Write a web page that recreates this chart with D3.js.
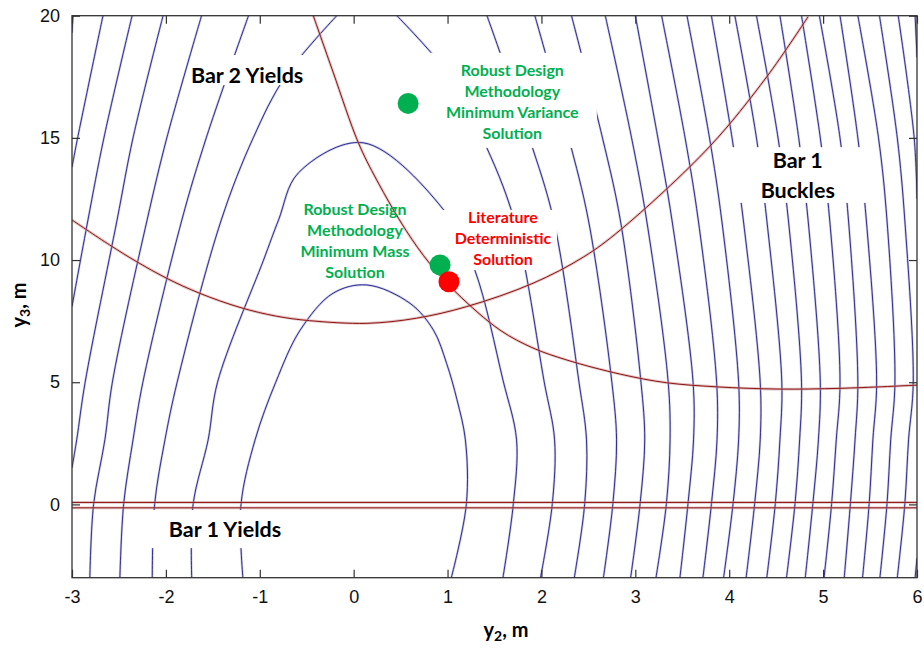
<!DOCTYPE html>
<html><head><meta charset="utf-8">
<script src="https://cdn.jsdelivr.net/npm/d3@7"></script>
<style>body{margin:0;background:#fff}</style>
</head><body>
<svg id="chart" width="924" height="650"></svg>
<script>
// Design space: y2 (horizontal) and y3 (vertical), metres
const xTicks = [-3, -2, -1, 0, 1, 2, 3, 4, 5, 6];
const yTicks = [0, 5, 10, 15, 20];

// Mass contours: closed arches around the origin
const innerContours = [
  [[-1.18,-3],[-1.20,0],[-1.05,2.64],[-0.83,5],[-0.57,7.13],[-0.22,8.64],[0.14,8.98],[0.60,8.23],[0.85,7.13],[0.99,5.77],[1.10,4.29],[1.19,2.64],[1.20,0],[1.04,-3]],
  [[-1.725,-3],[-1.71,0],[-1.55,2.64],[-1.45,5],[-0.96,10],[-0.80,11.64],[-0.59,13.56],[0.10,14.8],[0.99,11.9],[1.29,9.59],[1.59,5.09],[1.735,2.64],[1.70,0],[1.59,-3]]
];
// Mass contours, left-hand branches
const leftContours = [
  [[-2.145,-3],[-2.12,0],[-2.01,2.64],[-1.88,5],[-1.41,11.64],[-1.07,15],[-0.73,17.5],[-0.18,20]],
  [[-2.49,-3],[-2.45,0],[-2.35,2.64],[-2.245,5],[-1.83,11.64],[-1.57,15],[-1.12,20]],
  [[-2.81,-3],[-2.77,0],[-2.65,2.64],[-2.57,5],[-2.20,11.64],[-1.99,15],[-1.62,20]],
  [[-3,1.5],[-2.95,2.64],[-2.86,5],[-2.52,11.64],[-2.35,15],[-2.03,20]],
  [[-3,8.1],[-2.83,11.64],[-2.66,15],[-2.36,20]],
  [[-3,13.8],[-2.94,15],[-2.67,20]],
  [[-3,19.3],[-2.99,20]]
];
// Mass contours, right-hand branches
const rightContours = [
  [[1.99,-3],[2.115,0],[2.14,2.64],[2.03,5],[1.71,11.64],[1.37,15],[1.03,17.5],[0.46,20]],
  [[2.35,-3],[2.46,0],[2.48,2.64],[2.40,5],[2.13,11.64],[1.87,15],[1.42,20]],
  [[2.66,-3],[2.76,0],[2.80,2.64],[2.75,5],[2.50,11.64],[2.29,15],[1.93,20]],
  [[2.95,-3],[3.05,0],[3.10,2.64],[3.06,5],[2.84,11.64],[2.65,15],[2.32,20]],
  [[3.22,-3],[3.33,0],[3.37,2.64],[3.35,5],[3.12,11.64],[2.96,15],[2.68,20]],
  [[3.475,-3],[3.56,0],[3.62,2.64],[3.615,5],[3.39,11.64],[3.24,15],[3.0,20]],
  [[3.72,-3],[3.81,0],[3.87,2.64],[3.866,5],[3.67,11.64],[3.53,15],[3.28,20]],
  [[3.94,-3],[4.04,0],[4.10,2.64],[4.10,5],[3.92,11.64],[3.79,15],[3.55,20]],
  [[4.18,-3],[4.27,0],[4.33,2.64],[4.33,5],[4.15,11.64],[4.03,15],[3.81,20]],
  [[4.40,-3],[4.49,0],[4.54,2.64],[4.56,5],[4.40,11.64],[4.29,15],[4.06,20]],
  [[4.61,-3],[4.70,0],[4.75,2.64],[4.77,5],[4.63,11.64],[4.52,15],[4.29,20]],
  [[4.81,-3],[4.89,0],[4.95,2.64],[4.97,5],[4.84,11.64],[4.74,15],[4.54,20]],
  [[5.01,-3],[5.09,0],[5.14,2.64],[5.18,5],[5.07,11.64],[4.97,15],[4.77,20]],
  [[5.225,-3],[5.29,0],[5.34,2.64],[5.37,5],[5.27,11.64],[5.18,15],[4.96,20]],
  [[5.42,-3],[5.49,0],[5.53,2.64],[5.57,5],[5.46,11.64],[5.37,15],[5.18,20]],
  [[5.605,-3],[5.68,0],[5.72,2.64],[5.765,5],[5.68,11.64],[5.59,15],[5.37,20]],
  [[5.79,-3],[5.87,0],[5.91,2.64],[5.96,5],[5.87,11.64],[5.79,15],[5.60,20]],
  [[5.98,-3],[6.0,-2.2]],
  [[6.0,12.5],[5.97,15],[5.80,20]],
  [[6.0,18.3],[5.98,20]]
];

// Constraint boundaries
const bar2Yields = [[-3,11.64],[-2.6,10.62],[-2.31,9.93],[-1.99,9.25],[-1.64,8.64],[-1.21,8.06],[-0.82,7.7],[-0.47,7.52],[0.14,7.41],[0.67,7.62],[1.2,8.09],[1.91,9.05],[2.45,10.13],[2.84,11.23],[3.79,14.64],[4.4,17.5],[4.84,19.96]];
const bar1Buckles = [[-0.43,20],[-0.22,17.7],[0.05,14.8],[0.245,13.28],[0.56,11.2],[0.81,9.86],[1.10,8.64],[1.56,7.13],[1.91,6.40],[2.27,5.91],[2.84,5.33],[3.33,4.98],[3.87,4.81],[4.54,4.72],[5.18,4.75],[6.0,4.88]];
const bar1Yields = [[[-3,0.08],[6,0.08]], [[-3,-0.14],[6,-0.14]]];

// Design points
const solutions = [
  {name: "Robust minimum variance", y2: 0.58, y3: 16.41, color: "#00b050"},
  {name: "Robust minimum mass", y2: 0.92, y3: 9.80, color: "#00b050"},
  {name: "Literature deterministic", y2: 1.015, y3: 9.11, color: "#ff0000"}
];

// Annotations (anchor in data units) and their white backing panels
const notes = [
  {lines: ["Bar 2 Yields"], x: -1.135, y: 17.24, color: "#000", size: 21.5, gap: 0},
  {lines: ["Robust Design", "Methodology", "Minimum Variance", "Solution"], x: 1.69, y: 17.53, color: "#00b050", size: 16, gap: 21},
  {lines: ["Robust Design", "Methodology", "Minimum Mass", "Solution"], x: 0.014, y: 11.84, color: "#00b050", size: 16, gap: 21},
  {lines: ["Literature", "Deterministic", "Solution"], x: 1.59, y: 11.5, color: "#ff0000", size: 16, gap: 21},
  {lines: ["Bar 1", "Buckles"], x: 4.73, y: 13.75, color: "#000", size: 21.5, gap: 30},
  {lines: ["Bar 1 Yields"], x: -1.37, y: -1.33, color: "#000", size: 21.5, gap: 0}
];
const panels = [
  [-1.50, 18.39, -0.23, 17.16],
  [0.79, 18.48, 2.59, 14.59],
  [0.887, 12.05, 2.165, 9.59],
  [4.03, 14.62, 5.47, 12.34],
  [-2.17, -0.23, -0.57, -1.79]
];

const svg = d3.select("#chart");
const W = 924, H = 650;
const pL = 72, pR = 917, pT = 15.7, pB = 577.7;
const x = d3.scaleLinear().domain([-3, 6]).range([pL, pR]);
const y = d3.scaleLinear().domain([-3, 20]).range([pB, pT]);

svg.append("rect").attr("width", W).attr("height", H).attr("fill", "#fff");

svg.append("defs").append("clipPath").attr("id", "plot")
  .append("rect").attr("x", pL).attr("y", pT)
  .attr("width", pR - pL).attr("height", pB - pT);

const line = d3.line().x(d => x(d[0])).y(d => y(d[1]))
  .curve(d3.curveCatmullRom.alpha(0.5));

const plot = svg.append("g").attr("clip-path", "url(#plot)");

function drawCurves(g, data, halo, core, hw, cw) {
  g.selectAll(null).data(data).join("path")
    .attr("d", line).attr("fill", "none")
    .attr("stroke", halo).attr("stroke-width", hw).attr("stroke-opacity", 0.55);
  g.selectAll(null).data(data).join("path")
    .attr("d", line).attr("fill", "none")
    .attr("stroke", core).attr("stroke-width", cw);
}

const contours = innerContours.concat(leftContours, rightContours);
drawCurves(plot.append("g"), contours, "#9c9cc8", "#1c1c8c", 2.3, 0.9);

// white panels behind annotations
plot.append("g").selectAll("rect").data(panels).join("rect")
  .attr("x", d => x(d[0])).attr("y", d => y(d[1]))
  .attr("width", d => x(d[2]) - x(d[0])).attr("height", d => y(d[3]) - y(d[1]))
  .attr("fill", "#fff");

drawCurves(plot.append("g"), [bar2Yields, bar1Buckles].concat(bar1Yields), "#c98f8f", "#8e1515", 2.8, 1.0);

// design points
plot.append("g").selectAll("circle").data(solutions).join("circle")
  .attr("cx", d => x(d.y2)).attr("cy", d => y(d.y3)).attr("r", 10.5)
  .attr("fill", d => d.color);

// frame and axes
const tickFmt = d => String(d);
const axisG = svg.append("g").attr("font-family", "'Liberation Sans', Arial, sans-serif");
axisG.append("g").attr("transform", `translate(0,${pB})`)
  .call(d3.axisBottom(x).tickValues(xTicks).tickSizeInner(-8).tickSizeOuter(0).tickPadding(13).tickFormat(tickFmt));
axisG.append("g").attr("transform", `translate(0,${pT})`)
  .call(d3.axisTop(x).tickValues(xTicks).tickSizeInner(-8).tickSizeOuter(0).tickFormat(""));
axisG.append("g").attr("transform", `translate(${pL},0)`)
  .call(d3.axisLeft(y).tickValues(yTicks).tickSizeInner(-8).tickSizeOuter(0).tickPadding(12).tickFormat(tickFmt));
axisG.append("g").attr("transform", `translate(${pR},0)`)
  .call(d3.axisRight(y).tickValues(yTicks).tickSizeInner(-8).tickSizeOuter(0).tickFormat(""));
axisG.selectAll(".domain").remove();
axisG.selectAll(".tick line").attr("stroke", "#333").attr("stroke-width", 1.2);
axisG.selectAll(".tick text").attr("font-size", 18).attr("fill", "#111");
svg.append("rect").attr("x", pL).attr("y", pT)
  .attr("width", pR - pL).attr("height", pB - pT)
  .attr("fill", "none").attr("stroke", "#333").attr("stroke-width", 1.3);

// annotations
const font = "Lato, 'Open Sans', sans-serif";
notes.forEach(n => {
  const t = svg.append("text").attr("font-family", font).attr("font-weight", 700)
    .attr("font-size", n.size).attr("fill", n.color).attr("text-anchor", "middle");
  n.lines.forEach((s, i) => {
    t.append("tspan").attr("x", x(n.x)).attr("y", y(n.y) + i * n.gap).text(s);
  });
});

// axis titles
const xt = svg.append("text").attr("font-family", font).attr("font-weight", 700)
  .attr("font-size", 20).attr("text-anchor", "middle")
  .attr("x", 506).attr("y", 637);
xt.append("tspan").text("y");
xt.append("tspan").attr("font-size", 14).attr("dy", 4).text("2");
xt.append("tspan").attr("dy", -4).text(", m");

const yt = svg.append("text").attr("font-family", font).attr("font-weight", 700)
  .attr("font-size", 20).attr("text-anchor", "middle")
  .attr("transform", "translate(26,305) rotate(-90)");
yt.append("tspan").text("y");
yt.append("tspan").attr("font-size", 14).attr("dy", 4).text("3");
yt.append("tspan").attr("dy", -4).text(", m");
</script></body></html>
